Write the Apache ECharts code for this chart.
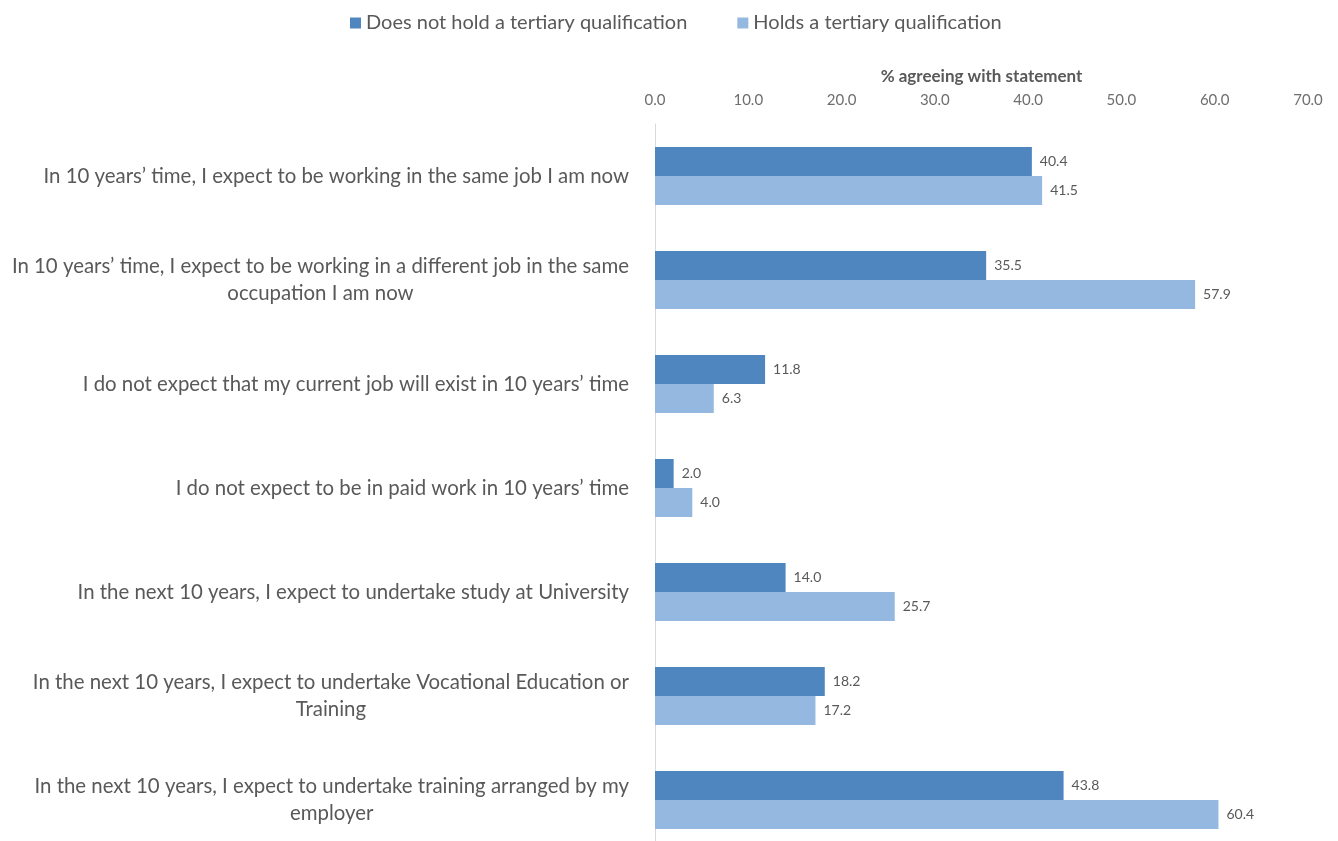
<!DOCTYPE html>
<html>
<head>
<meta charset="utf-8">
<script src="https://cdn.jsdelivr.net/npm/echarts@6/dist/echarts.min.js"></script>
<style>
  html, body { margin: 0; padding: 0; background: #ffffff; overflow: hidden; }
  /* the plot area runs slightly past the bottom edge of the page */
  #chart { width: 1338px; height: 852px; }
</style>
</head>
<body>
<div id="chart"></div>
<script>
// Survey statements (top to bottom)
const statements = [
  "In 10 years\u2019 time, I expect to be working in the same job I am now",
  "In 10 years\u2019 time, I expect to be working in a different job in the same\noccupation I am now",
  "I do not expect that my current job will exist in 10 years\u2019 time",
  "I do not expect to be in paid work in 10 years\u2019 time",
  "In the next 10 years, I expect to undertake study at University",
  "In the next 10 years, I expect to undertake Vocational Education or\nTraining",
  "In the next 10 years, I expect to undertake training arranged by my\nemployer"
];

const seriesNames = ["Does not hold a tertiary qualification", "Holds a tertiary qualification"];

// % agreeing with each statement
const noTertiary = [40.4, 35.5, 11.8, 2.0, 14.0, 18.2, 43.8];
const tertiary   = [41.5, 57.9, 6.3, 4.0, 25.7, 17.2, 60.4];

const xTicks = { min: 0, max: 70, interval: 10 };

const FONT = "Lato, 'Open Sans', sans-serif";
const TEXT = '#595959';
const chart = echarts.init(document.getElementById('chart'), null, { renderer: 'canvas' });

const valueLabel = {
  show: true,
  position: 'right',
  distance: 8,
  fontFamily: FONT,
  fontSize: 14,
  color: TEXT,
  formatter: p => p.value.toFixed(1)
};

chart.setOption({
  animation: false,
  backgroundColor: '#ffffff',
  textStyle: { fontFamily: FONT },
  legend: {
    top: 8,
    left: 345,
    itemWidth: 11,
    itemHeight: 11,
    itemGap: 50,
    icon: 'rect',
    textStyle: { fontFamily: FONT, fontSize: 20, color: TEXT },
    data: seriesNames
  },
  grid: {
    left: 655,
    right: 30,
    top: 124,
    bottom: 0,
    containLabel: false
  },
  xAxis: {
    type: 'value',
    position: 'top',
    min: xTicks.min,
    max: xTicks.max,
    interval: xTicks.interval,
    name: '% agreeing with statement',
    nameLocation: 'middle',
    nameGap: 39,
    nameTextStyle: { fontFamily: FONT, fontSize: 17, fontWeight: 'bold', color: TEXT },
    axisLine: { show: false },
    axisTick: { show: false },
    splitLine: { show: false },
    axisLabel: {
      margin: 16,
      fontFamily: FONT,
      fontSize: 15,
      color: '#6e6e6e',
      formatter: v => v.toFixed(1)
    }
  },
  yAxis: {
    type: 'category',
    inverse: true,
    data: statements,
    axisLine: { show: true, lineStyle: { color: '#d9d9d9', width: 1 } },
    axisTick: { show: false },
    axisLabel: {
      margin: 26,
      formatter: v => '{c|' + v + '}',
      rich: {
        c: {
          align: 'center',
          fontFamily: FONT,
          fontSize: 20.4,
          lineHeight: 27,
          color: TEXT
        }
      }
    }
  },
  series: [
    {
      name: seriesNames[0],
      type: 'bar',
      data: noTertiary,
      barWidth: 29,
      barGap: '0%',
      itemStyle: { color: '#4f86c0' },
      label: valueLabel
    },
    {
      name: seriesNames[1],
      type: 'bar',
      data: tertiary,
      barWidth: 29,
      barGap: '0%',
      itemStyle: { color: '#95b8e1' },
      label: valueLabel
    }
  ]
});
</script>
</body>
</html>
